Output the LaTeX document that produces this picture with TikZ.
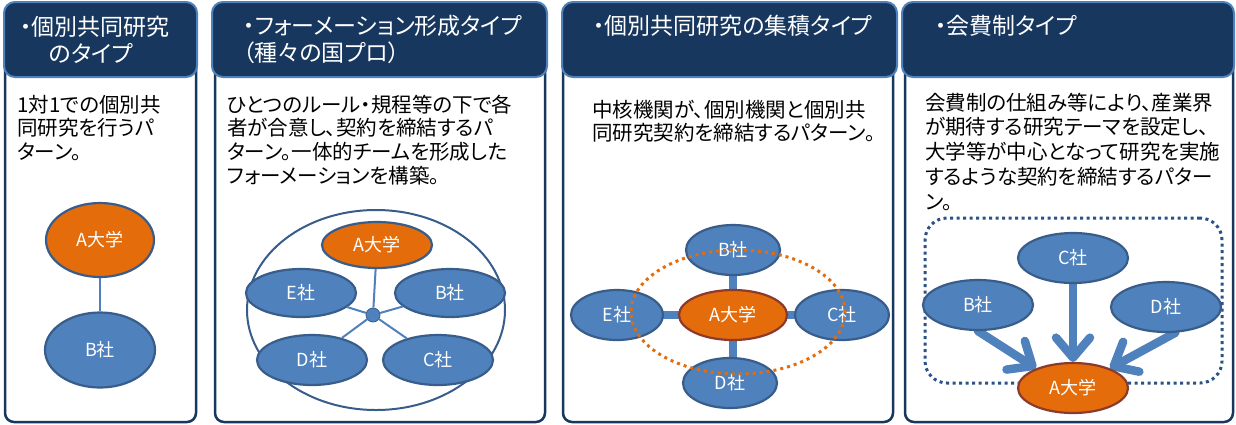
\documentclass[tikz,border=0pt]{standalone}
\usepackage{fontspec}
\setmainfont{Noto Sans CJK JP}[RawFeature=+palt]
\usetikzlibrary{shapes.geometric,arrows.meta}
\pgfdeclarelayer{bg}
\pgfdeclarelayer{conn}
\pgfsetlayers{bg,conn,main}
\definecolor{navy}{HTML}{17375E}
\definecolor{hborder}{HTML}{4F81BD}
\definecolor{bfill}{HTML}{4F81BD}
\definecolor{bline}{HTML}{385D8A}
\definecolor{ofill}{HTML}{E46C0A}
\definecolor{oline}{HTML}{8C3A2B}
\definecolor{dotnavy}{HTML}{2A5286}
\begin{document}
\begin{tikzpicture}[x=1pt,y=-1pt,
 body/.style={draw=navy,line width=2.5pt,fill=white,rounded corners=9pt},
 header/.style={draw=hborder,line width=2pt,fill=navy,rounded corners=11pt},
 htext/.style={anchor=base west,inner sep=0,text=white,font=\fontsize{23}{27}\selectfont,align=left},
 btext/.style={anchor=base west,inner sep=0,text=black,font=\fontsize{20.5}{23.8}\selectfont,align=left},
 org/.style={ellipse,draw=bline,line width=2.2pt,inner sep=0,text=white,font=\fontsize{18}{18}\selectfont},
 co/.style={org,fill=bfill},
 uni/.style={org,fill=ofill},
 unir/.style={uni,draw=oline},
 hubline/.style={draw=bfill,line width=2pt},
 bar/.style={draw=bfill,line width=8pt},
 fat/.style={draw=bfill,line width=8.5pt,line cap=round,-{Straight Barb[length=20pt,width=34pt,round]}},
]
\useasboundingbox (0,0) rectangle (1236,424);
% ---------- frames ----------
\begin{pgfonlayer}{bg}
\draw[body] (5,40) rectangle (196,422);
\draw[header] (4,2) rectangle (197,77);
\draw[body] (215,40) rectangle (545,422);
\draw[header] (212,2) rectangle (547,77);
\draw[body] (563,40) rectangle (893,422);
\draw[header] (562,2) rectangle (897,77);
\draw[body] (905,40) rectangle (1233,422);
\draw[header] (902,2) rectangle (1234,77);
\end{pgfonlayer}
% ---------- headers (base anchor = last line) ----------
\node[htext] (h1) at (20,62) {・個別共同研究\\\hspace*{29pt}のタイプ};
\node[htext] (h2) at (243,61) {・フォーメーション形成タイプ\\（種々の国プロ）};
\node[htext] (h3) at (593,34) {・個別共同研究の集積タイプ};
\node[htext] (h4) at (935,34) {・会費制タイプ};
% ---------- body texts ----------
\node[btext] (t1) at (17,159.6) {1対1での個別共\\同研究を行うパ\\ターン。};
\node[btext] (t2) at (227,183.4) {ひとつのルール・規程等の下で各\\者が合意し、契約を締結するパ\\ターン。一体的チームを形成した\\フォーメーションを構築。};
\node[btext] (t3) at (592,140.8) {中核機関が、個別機関と個別共\\同研究契約を締結するパターン。};
\node[btext,font=\fontsize{20.5}{24.8}\selectfont] (t4) at (925,209.2) {会費制の仕組み等により、産業界\\が期待する研究テーマを設定し、\\大学等が中心となって研究を実施\\するような契約を締結するパター\\ン。};
% ---------- panel 1 ----------
\node[uni,minimum width=108pt,minimum height=74pt] (p1a) at (100,240) {A大学};
\node[co,minimum width=110pt,minimum height=75pt] (p1b) at (100,350) {B社};
\draw[hubline,line width=2.5pt] (p1a) -- (p1b);
% ---------- panel 2 ----------
\node[ellipse,draw=bline,line width=2pt,fill=white,minimum width=258pt,minimum height=200pt,inner sep=0] (p2ring) at (376,310) {};
\node[uni,minimum width=110pt,minimum height=46pt] (p2a) at (377,245) {A大学};
\node[co,minimum width=110pt,minimum height=48pt] (p2e) at (301,293) {E社};
\node[co,minimum width=110pt,minimum height=48pt] (p2b) at (450,293) {B社};
\node[co,minimum width=110pt,minimum height=50pt] (p2d) at (312,360) {D社};
\node[co,minimum width=110pt,minimum height=50pt] (p2c) at (438,360) {C社};
\node[circle,fill=bfill,draw=bline,line width=0.8pt,minimum size=14pt,inner sep=0] (p2hub) at (373,315) {};
\foreach \n in {p2a,p2e,p2b,p2d,p2c} \draw[hubline] (p2hub) -- (\n);
% ---------- panel 3 ----------
\node[unir,minimum width=108pt,minimum height=50pt] (p3a) at (733,315) {A大学};
\node[co,minimum width=94pt,minimum height=50pt] (p3b) at (733,250) {B社};
\node[co,minimum width=92pt,minimum height=50pt] (p3e) at (617,315) {E社};
\node[co,minimum width=94pt,minimum height=50pt] (p3c) at (842,315) {C社};
\node[co,minimum width=94pt,minimum height=50pt] (p3d) at (730,383) {D社};
\begin{pgfonlayer}{conn}
\draw[bar] (p3a.center) -- (p3b.center);
\draw[bar] (p3a.center) -- (p3e.center);
\draw[bar] (p3a.center) -- (p3c.center);
\draw[bar] (p3a.center) -- (p3a.center |- p3d.center);
\end{pgfonlayer}
\node[ellipse,draw=ofill,line width=3pt,dash pattern=on 3pt off 4pt,minimum width=214pt,minimum height=124pt,inner sep=0] (p3ring) at (738,312) {};
% ---------- panel 4 ----------
\node[draw=dotnavy,line width=3pt,dash pattern=on 3pt off 3.5pt,rounded corners=22pt,minimum width=297pt,minimum height=165pt,inner sep=0] (p4box) at (1073.5,300.5) {};
\node[co,minimum width=110pt,minimum height=50pt] (p4c) at (1073,258) {C社};
\node[co,minimum width=110pt,minimum height=50pt] (p4b) at (978,305) {B社};
\node[co,minimum width=110pt,minimum height=50pt] (p4d) at (1166,307) {D社};
\node[unir,minimum width=110pt,minimum height=50pt] (p4a) at (1073,388) {A大学};
\begin{pgfonlayer}{conn}
\draw[fat] (p4c) -- (p4a);
\draw[fat] (p4b.south) -- (p4a.152);
\draw[fat] (p4d.290) -- (p4a.28);
\end{pgfonlayer}
\end{tikzpicture}
\end{document}
